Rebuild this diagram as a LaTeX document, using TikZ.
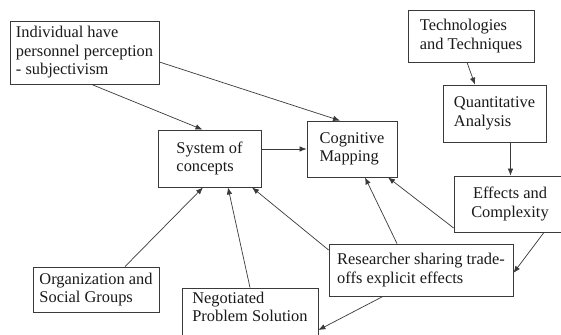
\documentclass[tikz,border=0pt]{standalone}
\usepackage{fontspec}
\setmainfont{Liberation Serif}
\usetikzlibrary{arrows.meta}
\definecolor{inkline}{HTML}{3A3A3A}
\definecolor{inktext}{HTML}{1A1A1A}
\begin{document}
\begin{tikzpicture}[x=1pt,y=-1pt,
  box/.style={draw=inkline, line width=0.8pt, rectangle, inner sep=0pt,
    text=inktext, font=\fontsize{16.4}{18.5}\selectfont, align=left},
  link/.style={draw=inkline, line width=0.7pt, -{Latex[length=7pt,width=5.5pt]}}]
  \clip (0,0) rectangle (561,334);
  \fill[white] (0,0) rectangle (561,334);

  % concept boxes
  \node[box, minimum width=149pt, minimum height=63pt] (ind) at (84.5,52.5)
    {Individual have\\personnel perception\\- subjectivism};
  \node[box, minimum width=103pt, minimum height=57pt] (sys) at (209.5,158.5)
    {System of\\concepts};
  \node[box, minimum width=90pt, minimum height=56pt] (cog) at (352,149)
    {Cognitive\\Mapping};
  \node[box, minimum width=126pt, minimum height=52pt] (tech) at (471,36)
    {Technologies\\and Techniques};
  \node[box, minimum width=103pt, minimum height=57pt] (quant) at (494.5,113.5)
    {Quantitative\\Analysis};
  \node[box, align=center, minimum width=112pt, minimum height=56pt] (eff) at (510,204)
    {Effects and\\Complexity};
  \node[box, minimum width=184pt, minimum height=52pt] (res) at (421,270)
    {Researcher sharing trade-\\offs explicit effects};
  \node[box, minimum width=126pt, minimum height=45pt] (org) at (96,289.5)
    {Organization and\\Social Groups};
  \node[box, minimum width=136pt, minimum height=56pt, text depth=18pt] (neg) at (250,316)
    {Negotiated\\Problem Solution};

  % influences
  \draw[link] ([xshift=7pt]ind.south) -- ([xshift=-7pt]sys.north);
  \draw[link] ([yshift=-9.5pt]ind.east) -- ([xshift=-12pt]cog.north);
  \draw[link] ([yshift=9.5pt]sys.east) -- (sys.east |- cog.west) -- (cog.west);
  \draw[link] ([xshift=-4pt]tech.south) -- ([xshift=-19.5pt]quant.north);
  \draw[link] ([xshift=16pt]quant.south) -- ([xshift=16pt]quant.south |- eff.north);
  \draw[link] ([yshift=-24pt]eff.west) -- ([xshift=36pt]cog.south);
  \draw[link] ([xshift=34pt]eff.south) -- ([yshift=-3pt]res.east);
  \draw[link] ([xshift=-24pt]res.north) -- ([xshift=13pt]cog.south);
  \draw[link] ([yshift=20pt]res.west) -- ([xshift=42.5pt]sys.south);
  \draw[link] ([xshift=-38pt]res.south) -- ([yshift=-14pt]neg.east);
  \draw[link] ([xshift=29pt]org.north) -- ([xshift=-6.5pt]sys.south);
  \draw[link] (neg.north) -- ([xshift=18.5pt]sys.south);
\end{tikzpicture}
\end{document}
